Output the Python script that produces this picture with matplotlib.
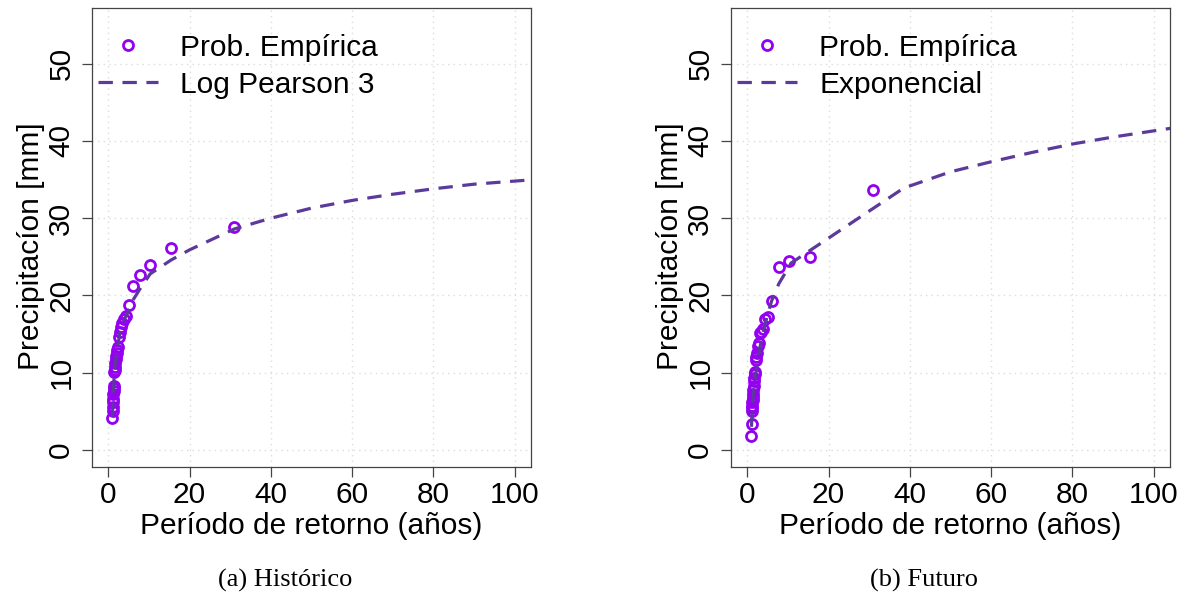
import matplotlib
matplotlib.use("Agg")
import matplotlib.pyplot as plt
import numpy as np

# ---------------- data ----------------
# empirical return periods (Weibull, n = 30)
emp_T = [31.0, 15.5, 10.33, 7.75, 6.2, 5.17, 4.43, 3.875, 3.44, 3.1,
         2.82, 2.58, 2.38, 2.21, 2.07, 1.94, 1.82, 1.72, 1.63, 1.55,
         1.48, 1.41, 1.35, 1.29, 1.24, 1.19, 1.15, 1.11, 1.07, 1.03]

hist_emp = [28.8, 26.1, 23.9, 22.6, 21.2, 18.8, 17.3, 16.9, 16.4, 15.9,
            15.3, 14.6, 13.3, 13.0, 12.6, 12.2, 11.8, 11.3, 10.8, 10.4,
            10.1, 8.3, 8.0, 7.7, 7.3, 6.6, 6.2, 5.6, 5.0, 4.1]

fut_emp = [33.7, 25.0, 24.5, 23.7, 19.3, 17.2, 16.9, 15.6, 15.3, 15.1,
           13.8, 13.4, 12.6, 12.0, 11.6, 10.1, 9.8, 9.3, 8.9, 8.3,
           7.8, 7.3, 6.9, 6.5, 6.2, 5.7, 5.4, 5.0, 3.4, 1.8]

# fitted curves
hist_fit_T = [1.03, 1.2, 1.5, 2.0, 3.0, 4.0, 5.0, 6.2, 7.75, 10.33, 15.5,
              20.0, 31.0, 40.0, 50.0, 60.0, 70.0, 80.0, 90.0, 100.0, 105.0]
hist_fit = [4.3, 7.0, 10.0, 12.5, 15.5, 17.0, 18.0, 19.5, 20.8, 22.8, 24.6,
            25.9, 28.6, 30.0, 31.3, 32.3, 33.1, 33.8, 34.4, 34.8, 35.0]

fut_fit_T = [1.03, 1.5, 2.0, 3.0, 4.0, 5.0, 6.0, 7.75, 10.8, 38.5,
             50.0, 60.0, 70.0, 80.0, 90.0, 100.0, 105.0]
fut_fit = [3.0, 7.5, 9.5, 13.0, 15.5, 17.5, 19.3, 21.5, 24.2, 33.9,
           36.0, 37.3, 38.5, 39.6, 40.5, 41.3, 41.7]

xticks = [0, 20, 40, 60, 80, 100]
yticks = [0, 10, 20, 30, 40, 50]

panels = [
    dict(emp=hist_emp, fitT=hist_fit_T, fit=hist_fit,
         label="Log Pearson 3", caption="(a) Histórico"),
    dict(emp=fut_emp, fitT=fut_fit_T, fit=fut_fit,
         label="Exponencial", caption="(b) Futuro"),
]

# ---------------- style ----------------
plt.rcParams['font.family'] = ['Liberation Sans', 'DejaVu Sans']
PT_COLOR = '#9400F0'
LN_COLOR = '#5B3A9B'
FS = 21.5

fig = plt.figure(figsize=(11.87, 5.97), dpi=100)

lefts = [92 / 1187, 731 / 1187]
caption_x = [285 / 1187, 924 / 1187]
bottom = (597 - 467) / 597
width = 439 / 1187
height = 459 / 597

for i, p in enumerate(panels):
    ax = fig.add_axes([lefts[i], bottom, width, height])
    ax.set_xlim(-4, 104)
    ax.set_ylim(-2.2, 57.2)
    ax.set_xticks(xticks)
    ax.set_yticks(yticks)
    ax.grid(True, color='#dcdcdc', linestyle=(0, (1, 3)), linewidth=1.0)
    ax.set_axisbelow(True)

    ax.plot(emp_T, p['emp'], linestyle='none', marker='o', markersize=7.2,
            markerfacecolor='none', markeredgecolor=PT_COLOR,
            markeredgewidth=2.0, label="Prob. Empírica", zorder=3)
    ax.plot(p['fitT'], p['fit'], color=LN_COLOR, linewidth=2.3,
            dashes=(4.5, 3.0), label=p['label'], zorder=4, clip_on=True)

    for s in ax.spines.values():
        s.set_color('#444444')
        s.set_linewidth(0.9)
    ax.tick_params(direction='out', length=7, width=0.9, color='#444444',
                   labelsize=FS, pad=3)
    ax.tick_params(axis='y', labelrotation=90, pad=5)
    for lab in ax.get_yticklabels():
        lab.set_va('center')

    ax.set_xlabel("Período de retorno (años)", fontsize=FS, labelpad=2)
    ax.set_ylabel("Precipitacíon [mm]", fontsize=FS)
    ax.yaxis.set_label_coords(-0.108, 0.48)

    leg = ax.legend(loc='upper left', bbox_to_anchor=(0.0, 0.957),
                    frameon=False, fontsize=FS, handlelength=2.0,
                    handletextpad=0.75, labelspacing=0.3, borderpad=0.2,
                    borderaxespad=0.0)

    fig.text(caption_x[i], (597 - 580) / 597, p['caption'],
             ha='center', va='center', fontsize=19,
             family=['Liberation Serif', 'DejaVu Serif'])

fig.savefig('out.png', dpi=100)
